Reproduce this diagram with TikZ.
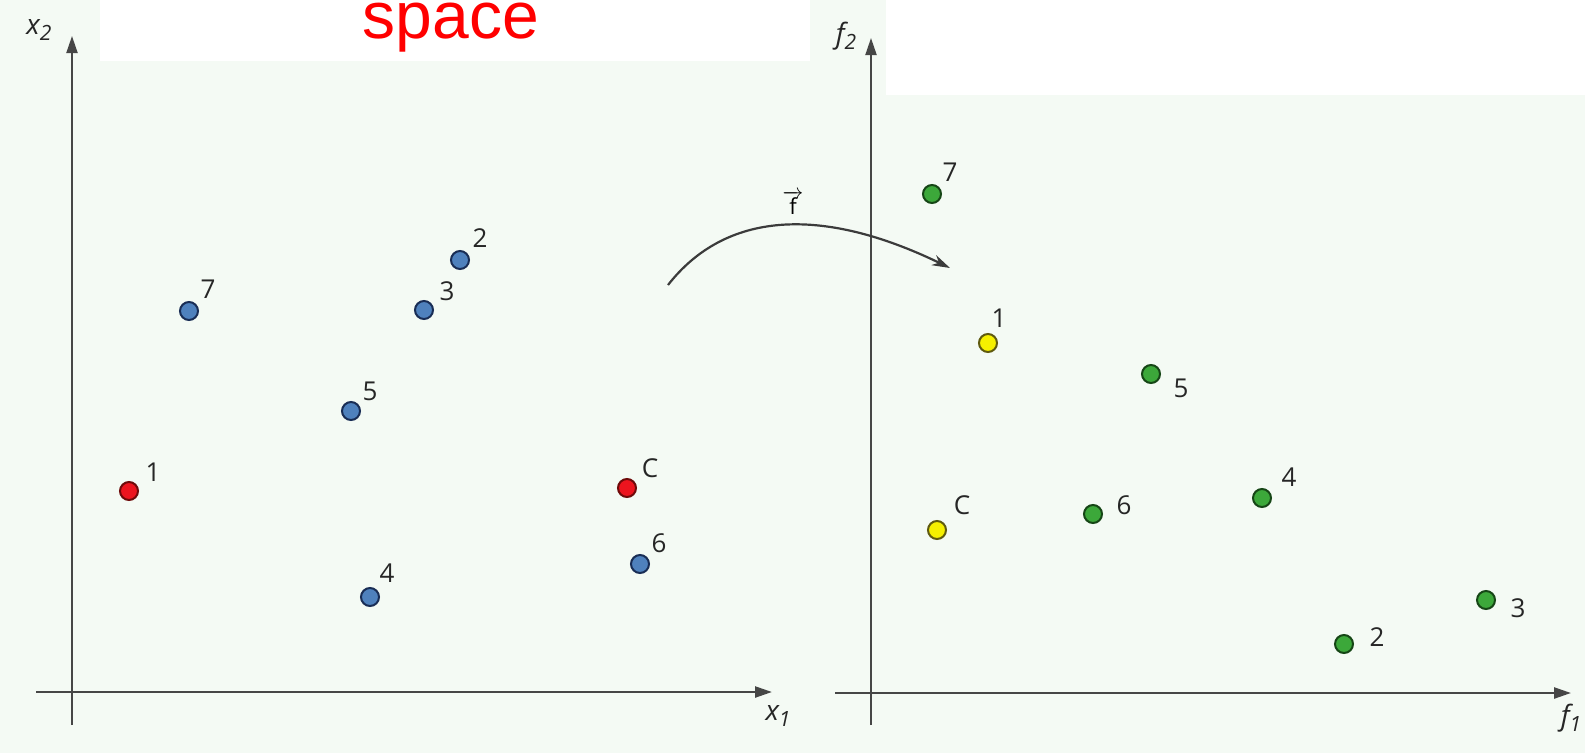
\documentclass[tikz,border=0pt]{standalone}
\usepackage{fontspec}
\setmainfont{Open Sans}
\newfontfamily\arialfont{Liberation Sans}
\usetikzlibrary{arrows.meta}
\definecolor{bgc}{RGB}{244,250,244}
\definecolor{axc}{RGB}{70,70,70}
\definecolor{bluef}{RGB}{79,129,189}
\definecolor{bluel}{RGB}{25,45,85}
\definecolor{redf}{RGB}{236,20,30}
\definecolor{redl}{RGB}{110,10,10}
\definecolor{greenf}{RGB}{60,168,58}
\definecolor{greenl}{RGB}{22,70,22}
\definecolor{yelf}{RGB}{245,240,0}
\definecolor{yell}{RGB}{95,90,15}
\tikzset{
  dotb/.style={circle,inner sep=0pt,minimum size=18pt,line width=2pt},
  bdot/.style={dotb,fill=bluef,draw=bluel},
  rdot/.style={dotb,fill=redf,draw=redl},
  gdot/.style={dotb,fill=greenf,draw=greenl},
  ydot/.style={dotb,fill=yelf,draw=yell},
  lbl/.style={inner sep=0pt,font=\fontsize{26}{28}\selectfont,text=black!85},
  axlbl/.style={inner sep=0pt,font=\fontsize{28}{30}\selectfont\itshape,text=black!85},
  axis/.style={draw=axc,line width=2.4pt,-{Triangle[length=17pt,width=11pt]}},
}
\begin{document}
\begin{tikzpicture}[x=1pt,y=-1pt]
\useasboundingbox (0,0) rectangle (1585,753);
\fill[bgc] (0,0) rectangle (1585,753);
\fill[white] (100,0) rectangle (810,61);
\fill[white] (886,0) rectangle (1585,95);
% title
\node[anchor=base,inner sep=0pt,text=red,font=\arialfont\fontsize{66}{70}\selectfont] (title) at (451,38) {space};
% left axes
\coordinate (lo1) at (36,692);
\coordinate (lx) at (772,692);
\coordinate (lo2) at (72,725);
\coordinate (ly) at (72,36);
\draw[axis] (lo1) -- (lx);
\draw[axis,line width=2pt] (lo2) -- (ly);
\node[axlbl] (x2) at (39,30) {x\raisebox{-0.4ex}{\fontsize{21}{22}\selectfont 2}};
\node[axlbl] (x1) at (778,716) {x\raisebox{-0.4ex}{\fontsize{21}{22}\selectfont 1}};
% right axes
\coordinate (ro1) at (835,693);
\coordinate (rx) at (1571,693);
\coordinate (ro2) at (871,725);
\coordinate (ry) at (871,38);
\draw[axis] (ro1) -- (rx);
\draw[axis,line width=2pt] (ro2) -- (ry);
\node[axlbl] (f2) at (846,36) {f\raisebox{-0.4ex}{\fontsize{21}{22}\selectfont 2}};
\node[axlbl] (f1) at (1571,718) {f\raisebox{-0.4ex}{\fontsize{21}{22}\selectfont 1}};
% mapping arrow
\coordinate (fs) at (668,285);
\coordinate (fe) at (950,268);
\draw[axc!85!black,line width=2.2pt,-{Stealth[length=18pt,width=11pt]}] (fs) .. controls (725,212) and (820,205) .. (fe);
\node[inner sep=0pt,font=\fontsize{22}{24}\selectfont] (flbl) at (793,203) {$\overrightarrow{\mbox{f}}$};
% left points
\node[bdot] (l7) at (189,311) {};
\node[lbl] at (208,289) {7};
\node[bdot] (l2) at (460,260) {};
\node[lbl] at (480,238) {2};
\node[bdot] (l3) at (424,310) {};
\node[lbl] at (447,291) {3};
\node[bdot] (l5) at (351,411) {};
\node[lbl] at (370,391) {5};
\node[rdot] (l1) at (129,491) {};
\node[lbl] at (153,472) {1};
\node[rdot] (lC) at (627,488) {};
\node[lbl] at (650,468) {C};
\node[bdot] (l6) at (640,564) {};
\node[lbl] at (659,543) {6};
\node[bdot] (l4) at (370,597) {};
\node[lbl] at (387,573) {4};
% right points
\node[gdot] (r7) at (932,194) {};
\node[lbl] at (950,172) {7};
\node[ydot] (r1) at (988,343) {};
\node[lbl] at (999,318) {1};
\node[gdot] (r5) at (1151,374) {};
\node[lbl] at (1181,388) {5};
\node[ydot] (rC) at (937,530) {};
\node[lbl] at (962,505) {C};
\node[gdot] (r6) at (1093,514) {};
\node[lbl] at (1124,505) {6};
\node[gdot] (r4) at (1262,498) {};
\node[lbl] at (1289,477) {4};
\node[gdot] (r2) at (1344,644) {};
\node[lbl] at (1377,637) {2};
\node[gdot] (r3) at (1486,600) {};
\node[lbl] at (1518,608) {3};
\end{tikzpicture}
\end{document}
